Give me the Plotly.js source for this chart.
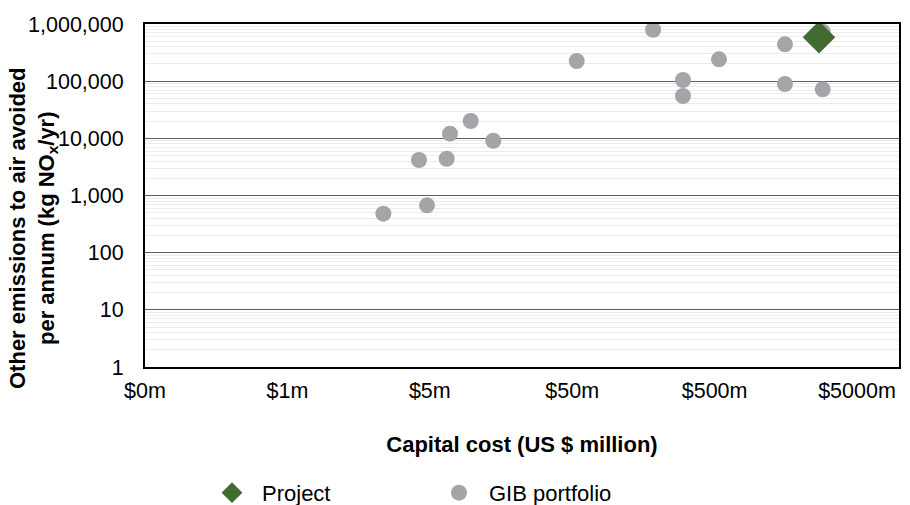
<!DOCTYPE html>
<html>
<head>
<meta charset="utf-8">
<script src="https://cdn.plot.ly/plotly-3.0.1.min.js"></script>
<style>html,body{margin:0;padding:0;background:#fff;}#chart{width:910px;height:505px;}</style>
</head>
<body>
<div id="chart"></div>
<script>
// GIB portfolio: capital cost (US $ million) and NOx avoided (kg/yr)
const gibCost = [2.36, 4.2, 4.78, 6.57, 6.93, 9.69, 13.96, 53.8, 185, 300, 300, 537, 1560, 1560, 2870, 2870];
const gibNOx  = [481, 4180, 673, 4400, 12050, 20100, 9080, 225000, 794000, 104700, 55000, 241000, 441000, 89100, 72000, 733000];
// Project
const projCost = [2705];
const projNOx  = [585000];
// Axis tick labels
const xTickVals = [0.05, 0.5, 5, 50, 500, 5000];
const xTickText = ["$0m", "$1m", "$5m", "$50m", "$500m", "$5000m"];
const yTickVals = [1, 10, 100, 1000, 10000, 100000, 1000000];
const yTickText = ["1", "10", "100", "1,000", "10,000", "100,000", "1,000,000"];
const yTitle = "<b>Other emissions to air avoided<br>per annum (kg NO<sub>x</sub>/yr)</b>";
const xTitle = "<b>Capital cost (US $ million)</b>";

const font = "Liberation Sans, Arial, sans-serif";

const traces = [
  {
    x: gibCost, y: gibNOx, mode: 'markers', type: 'scatter', name: 'GIB portfolio',
    marker: {color: '#A4A5A8', size: 16, symbol: 'circle'}
  },
  {
    x: projCost, y: projNOx, mode: 'markers', type: 'scatter', name: 'Project',
    marker: {color: '#426B30', size: 25, symbol: 'diamond'}
  }
];

const layout = {
  width: 910, height: 505,
  margin: {l: 145, r: 11, t: 24, b: 138, autoexpand: false},
  paper_bgcolor: '#fff', plot_bgcolor: '#fff',
  font: {family: font, color: '#000'},
  showlegend: true,
  legend: {
    orientation: 'h', traceorder: 'reversed',
    x: 0.0756, xanchor: 'left', y: -0.367, yanchor: 'middle',
    itemwidth: 50,
    entrywidth: 162, entrywidthmode: 'pixels',
    font: {size: 22, family: font, color: '#000'}
  },
  xaxis: {
    type: 'log', range: [Math.log10(0.05), 3.994],
    tickvals: xTickVals, ticktext: xTickText,
    tickfont: {size: 21.5, family: font},
    showgrid: false, zeroline: false,
    showline: true, linecolor: '#000', linewidth: 2, mirror: true,
    ticks: '', ticklabelstandoff: 3,
    title: {text: xTitle, font: {size: 22, family: font}, standoff: 35}
  },
  yaxis: {
    type: 'log', range: [0, 6],
    tickvals: yTickVals, ticktext: yTickText,
    tickfont: {size: 21.5, family: font},
    showgrid: true, gridcolor: '#5f5f5f', gridwidth: 1,
    zeroline: false,
    showline: true, linecolor: '#000', linewidth: 2, mirror: true,
    ticks: '', ticklabelstandoff: 15,
    minor: {dtick: 'D1', showgrid: true, gridcolor: '#ececec', gridwidth: 1, ticks: ''}
  },
  annotations: [
    {
      text: yTitle, xref: 'paper', yref: 'paper',
      x: (33 - 145) / 754, y: (367 - 228) / 343,
      xanchor: 'center', yanchor: 'middle', textangle: -90,
      showarrow: false, font: {size: 22, family: font, color: '#000'}
    }
  ]
};

Plotly.newPlot('chart', traces, layout, {displayModeBar: false, staticPlot: true});
</script>
</body>
</html>
